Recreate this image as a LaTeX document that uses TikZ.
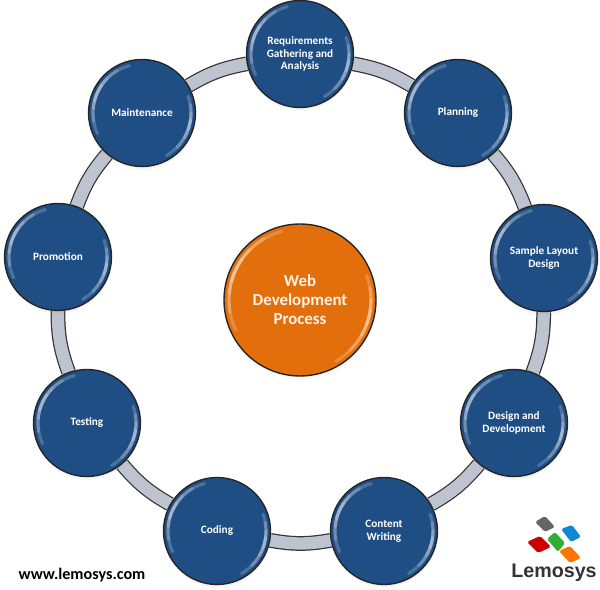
\documentclass[tikz,border=0pt]{standalone}
\usepackage{fontspec}
\setmainfont{Carlito}
\newfontfamily\logofont{Liberation Sans}
\usetikzlibrary{shadows,backgrounds}
\definecolor{ballblue}{HTML}{1F4E85}
\definecolor{ballorange}{HTML}{E36F0C}
\definecolor{ringgray}{HTML}{BEC3D0}
\tikzset{
	every node/.style={
		font=\bfseries\fontsize{6.4}{7.2}\selectfont
	},
	gloss/.style={
		white,
		opacity=.2,
		line width=1.8pt,
		line cap=round
	},
	stage/.style={
		shape=circle,
		minimum size=2.14cm,
		inner sep=0pt,
		align=center,
		text=white,
		fill=ballblue,
		draw=black!85,
		line width=0.8pt,
		circular drop shadow={shadow xshift=0pt,shadow yshift=-2pt,shadow scale=1.01,opacity=.25}
	},
	hub/.style={
		stage,
		minimum size=3.04cm,
		fill=ballorange,
		text=white!90!orange,
		font=\bfseries\fontsize{9.6}{10.8}\selectfont
	},
	ring/.style={
		draw=black!80,
		line width=0.7pt,
		double=ringgray,
		double distance=7pt
	}
}
\begin{document}
\begin{tikzpicture}[x=0.02cm,y=-0.02cm]
	\useasboundingbox (0,0) rectangle (600,590);

	\node[stage] (req)  at (300,54)  {Requirements\\Gathering and\\Analysis};
	\node[stage] (plan) at (458,113) {Planning};
	\node[stage] (lay)  at (544,258) {Sample Layout\\Design};
	\node[stage] (des)  at (514,423) {Design and\\Development};
	\node[stage] (con)  at (384,531) {Content\\Writing};
	\node[stage] (cod)  at (217,531) {Coding};
	\node[stage] (tes)  at (87,423)  {Testing};
	\node[stage] (pro)  at (58,257)  {Promotion};
	\node[stage] (mai)  at (142,113) {Maintenance};
	\node[hub]   (web)  at (300,300) {Web\\Development\\Process};

	\begin{scope}[on background layer]
		\draw[ring] (req)  to[bend left=10] (plan);
		\draw[ring] (plan) to[bend left=10] (lay);
		\draw[ring] (lay)  to[bend left=10] (des);
		\draw[ring] (des)  to[bend left=10] (con);
		\draw[ring] (con)  to[bend left=10] (cod);
		\draw[ring] (cod)  to[bend left=10] (tes);
		\draw[ring] (tes)  to[bend left=10] (pro);
		\draw[ring] (pro)  to[bend left=10] (mai);
		\draw[ring] (mai)  to[bend left=10] (req);
	\end{scope}

	% highlights on the balls
	\foreach \n/\r in {req/0.98cm,plan/0.98cm,lay/0.98cm,des/0.98cm,con/0.98cm,cod/0.98cm,tes/0.98cm,pro/0.98cm,mai/0.98cm,web/1.42cm}{
		\foreach \a/\b in {105/205,120/190,135/175,145/165,-60/20,-45/10,-30/0,-20/-8}{
			\begin{scope}[shift={(\n.center)}]
				\draw[gloss] plot[domain=\a:\b,samples=36,variable=\t] (\t:\r);
			\end{scope}
		}
	}

	\node[font=\bfseries\fontsize{9.2}{11}\selectfont] (site) at (82,575) {www.lemosys.com};
	\node[font=\logofont\bfseries\fontsize{11.2}{13}\selectfont,text=black!80] (logo) at (554,573) {Lemosys};

	% logo
	\fill[black!60,rounded corners=1pt] (535,522) -- (545,516) -- (555,527) -- (545,532) -- cycle;
	\fill[cyan!70!blue,rounded corners=1pt] (561,529) -- (572,525) -- (581,537) -- (571,542) -- cycle;
	\fill[red!80!black,rounded corners=1pt] (527,542) -- (540,536) -- (551,547) -- (538,553) -- cycle;
	\fill[green!60!black!80,rounded corners=1pt] (547,539) -- (555,532) -- (565,543) -- (558,552) -- cycle;
	\fill[orange!90!red,rounded corners=1pt] (559,551) -- (570,546) -- (581,558) -- (570,563) -- cycle;
\end{tikzpicture}
\end{document}
